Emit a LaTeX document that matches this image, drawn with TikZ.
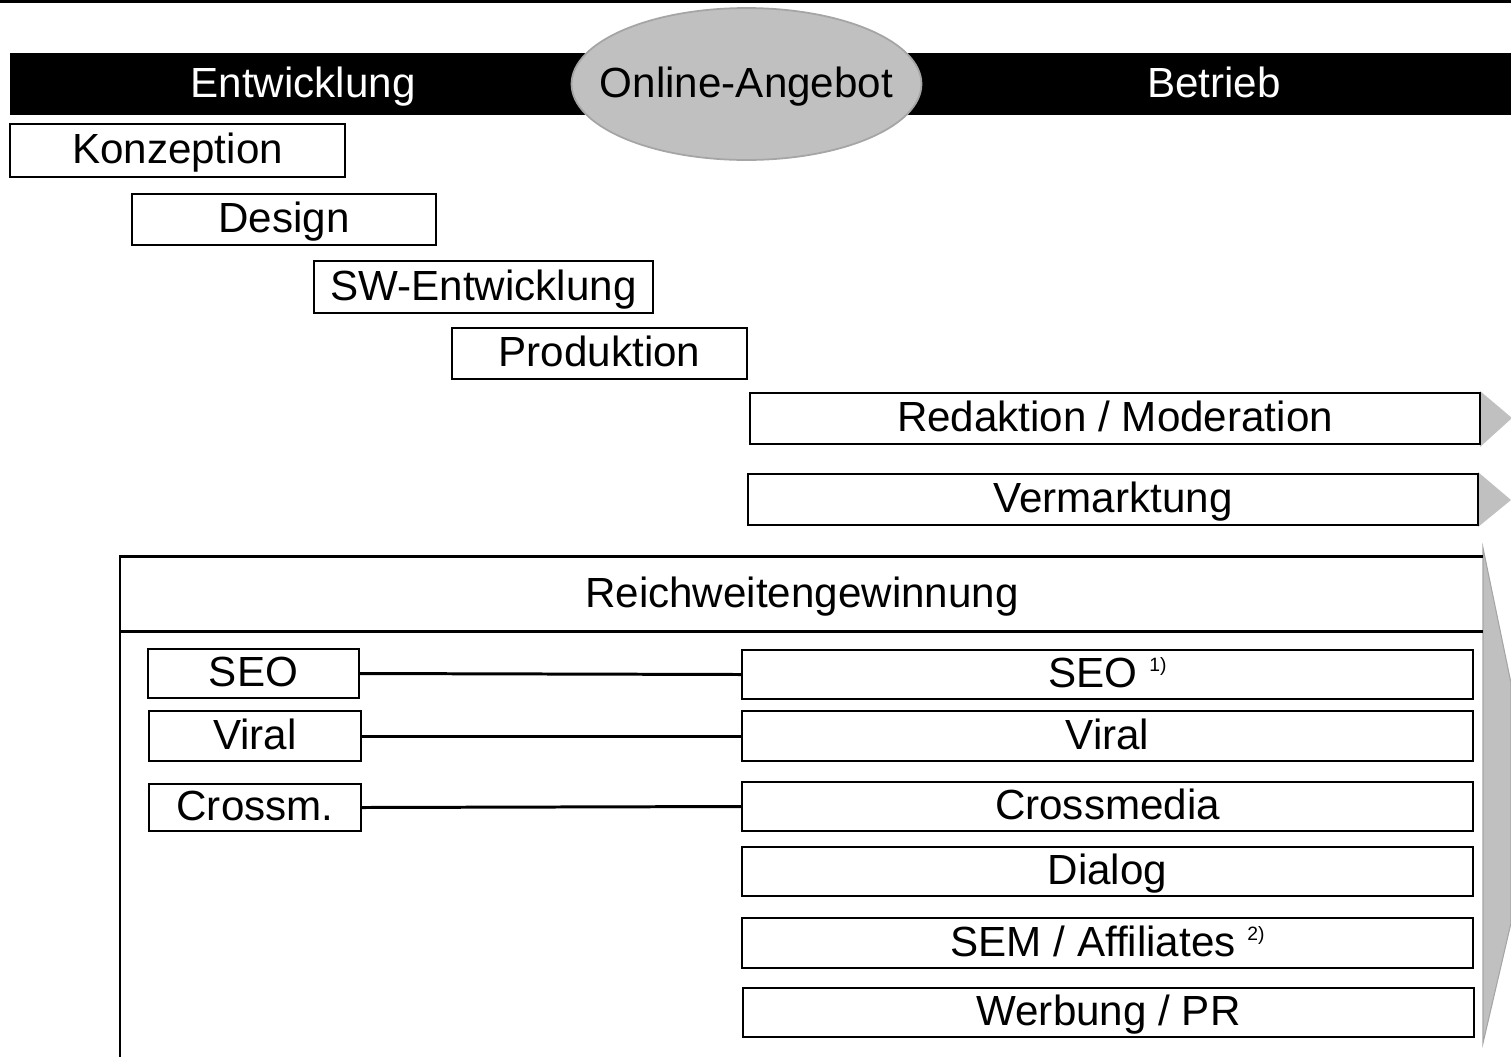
\documentclass[tikz,border=0pt]{standalone}
\usepackage{fontspec}
\setmainfont{Liberation Sans}
\definecolor{grayfill}{RGB}{192,192,192}
\definecolor{grayline}{RGB}{165,165,165}
\newcommand{\fnote}[1]{\raisebox{9pt}{\fontsize{11}{11}\selectfont #1}}

\begin{document}
\begin{tikzpicture}[x=0.02cm, y=-0.02cm, line join=miter,
  txt/.style={font=\fontsize{24}{28}\selectfont, text height=18pt, text depth=3pt, inner sep=0pt},
  box/.style={txt, draw, line width=1.2pt, minimum height=1cm},
  frame/.style={line width=1.7pt},
  link/.style={line width=1.7pt},
  headfill/.style={fill=grayfill, draw=none}]
  \useasboundingbox (0,0) rectangle (1511,1056);

  \fill (0,0) rectangle (1511,3);
  \fill (10,53) rectangle (1511,115);
  \node[txt, text=white] (dev) at (303,84) {Entwicklung};
  \node[txt, text=white] (ops) at (1214,84) {Betrieb};
  \filldraw[fill=grayfill, draw=grayline, line width=1pt] (746.5,84) ellipse [x radius=3.5cm, y radius=1.52cm];
  \node[txt] (offer) at (746.5,84) {Online-Angebot};

  \node[box, minimum width=6.7cm, minimum height=1.06cm] (konz) at (177.5,150.5) {Konzeption};
  \node[box, minimum width=6.08cm, minimum height=1.02cm] (design) at (284,219.5) {Design};
  \node[box, minimum width=6.78cm, minimum height=1.04cm] (swdev) at (483.5,287) {SW-Entwicklung};
  \node[box, minimum width=5.9cm, minimum height=1.02cm] (prod) at (599.5,353.5) {Produktion};

  \fill[headfill] (1480,391) -- (1512,418) -- (1480,447) -- cycle;
  \fill[headfill] (1478,472) -- (1511,500) -- (1478,527) -- cycle;
  \node[box, minimum width=14.6cm, minimum height=1.02cm] (redak) at (1115,418.5) {Redaktion / Moderation};
  \node[box, minimum width=14.6cm, minimum height=1.02cm] (verm) at (1113,499.5) {Vermarktung};

  \filldraw[fill=grayfill, draw=grayline, line width=0.6pt] (1483,548) -- (1511,683) -- (1511,923) -- (1483,1043) -- cycle;
  \draw[frame] (120,1060) -- (120,556) -- (1483,556);
  \draw[frame] (120,631) -- (1483,631);
  \node[txt] (reach) at (802,594) {Reichweitengewinnung};

  \node[box, minimum width=4.22cm, minimum height=0.98cm] (seoL) at (253.5,673.5) {SEO};
  \node[box, minimum width=4.24cm, minimum height=1cm] (viralL) at (255,736) {Viral};
  \node[box, minimum width=4.24cm, minimum height=0.94cm] (crossL) at (255,807.5) {Crossm.};

  \node[box, minimum width=14.62cm, minimum height=0.98cm] (seoR) at (1107.5,674.5) {SEO~\fnote{1)}};
  \node[box, minimum width=14.62cm, minimum height=1cm] (viralR) at (1107.5,736) {Viral};
  \node[box, minimum width=14.62cm, minimum height=0.98cm] (crossR) at (1107.5,806.5) {Crossmedia};
  \node[box, minimum width=14.62cm, minimum height=0.98cm] (dialog) at (1107.5,871.5) {Dialog};
  \node[box, minimum width=14.62cm, minimum height=1cm] (sem) at (1107.5,943) {SEM / Affiliates~\fnote{2)}};
  \node[box, minimum width=14.62cm, minimum height=0.98cm] (pr) at (1108.5,1012.5) {Werbung / PR};

  \draw[link] (seoL.east) -- (seoR.west);
  \draw[link] (viralL.east) -- (viralR.west);
  \draw[link] (crossL.east) -- (crossR.west);
\end{tikzpicture}
\end{document}
